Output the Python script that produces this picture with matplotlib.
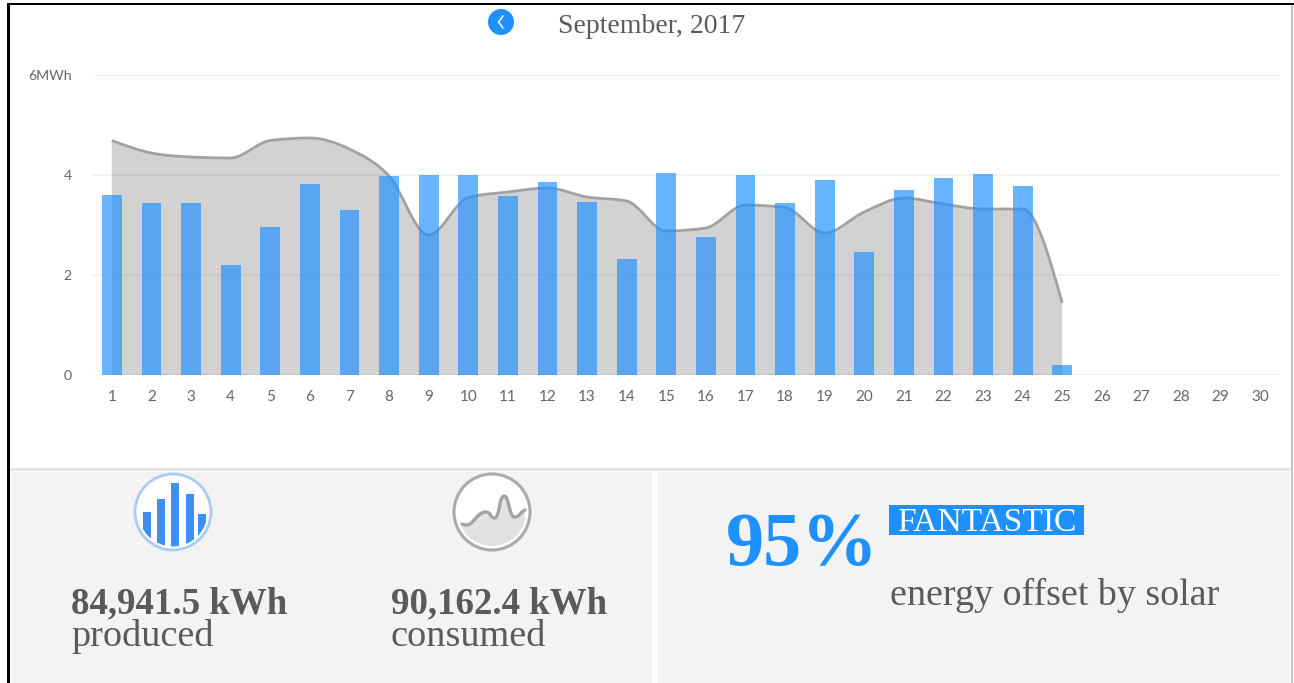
import numpy as np
import matplotlib
matplotlib.use("Agg")
import matplotlib.pyplot as plt
from matplotlib.patches import Rectangle, Circle, Ellipse, PathPatch
from matplotlib.path import Path

days = list(range(1, 31))
produced = [3.60, 3.44, 3.44, 2.20, 2.97, 3.82, 3.30, 3.98, 4.00, 4.00, 3.58, 3.87, 3.47,
            2.33, 4.05, 2.77, 4.00, 3.44, 3.90, 2.47, 3.71, 3.95, 4.03, 3.79, 0.20]
consumed = [4.69, 4.44, 4.36, 4.34, 4.69, 4.74, 4.52, 3.98, 2.80, 3.55, 3.66, 3.74, 3.56,
            3.48, 2.88, 2.94, 3.40, 3.35, 2.84, 3.26, 3.54, 3.42, 3.32, 3.32, 1.44]
y_ticks = [0, 2, 4, 6]
y_labels = ["0", "2", "4", "6MWh"]
title = "September, 2017"
stats = [("84,941.5 kWh", "produced"), ("90,162.4 kWh", "consumed")]
offset = "95%"
badge = "FANTASTIC"
caption = "energy offset by solar"

W, H = 1294, 683
BLUE = "#1e90ff"
TEXT = "#5a5a5a"
SERIF = "Liberation Serif"


def monotone_path(x, y, close_to=None):
    """Monotone cubic (d3 curveMonotoneX style) as Bezier path."""
    x = np.asarray(x, float)
    y = np.asarray(y, float)
    h = np.diff(x)
    s = np.diff(y) / h
    t = np.zeros_like(y)
    for i in range(1, len(y) - 1):
        if s[i - 1] * s[i] > 0:
            p = (s[i - 1] * h[i] + s[i] * h[i - 1]) / (h[i - 1] + h[i])
            t[i] = np.sign(s[i]) * min(abs(s[i - 1]), abs(s[i]), 0.5 * abs(p)) * 2
    t[0] = (3 * s[0] - t[1]) / 2
    t[-1] = (3 * s[-1] - t[-2]) / 2
    verts = [(x[0], y[0])]
    codes = [Path.MOVETO]
    for i in range(len(h)):
        verts += [(x[i] + h[i] / 3, y[i] + t[i] * h[i] / 3),
                  (x[i + 1] - h[i] / 3, y[i + 1] - t[i + 1] * h[i] / 3),
                  (x[i + 1], y[i + 1])]
        codes += [Path.CURVE4] * 3
    if close_to is not None:
        verts += [(x[-1], close_to), (x[0], close_to), (x[0], y[0])]
        codes += [Path.LINETO, Path.LINETO, Path.CLOSEPOLY]
    return Path(verts, codes)


fig = plt.figure(figsize=(W / 100, H / 100), dpi=100, facecolor="white")

# page layer in pixel coordinates
bg = fig.add_axes([0, 0, 1, 1], zorder=0)
bg.set_xlim(0, W)
bg.set_ylim(H, 0)
bg.axis("off")
bg.add_patch(Rectangle((11, 472), 641, 211, fc="#f3f3f3", ec="none"))
bg.add_patch(Rectangle((658, 472), 632, 211, fc="#f3f3f3", ec="none"))
bg.add_patch(Rectangle((10, 468), 1282, 3, fc="#e6e6e6", ec="none"))
bg.add_patch(Rectangle((7, 3), 1287, 2, fc="black", ec="none"))
bg.add_patch(Rectangle((7, 3), 2.5, 680, fc="black", ec="none"))
bg.add_patch(Rectangle((1291, 5), 1.5, 678, fc="#c4c4c4", ec="none"))

# chart
ax = fig.add_axes([92 / W, 1 - 375 / H, (1280 - 92) / W, 300 / H], zorder=1)
ax.patch.set_alpha(0)
ax.set_xlim(0.5, 30.5)
ax.set_ylim(0, 6)
ax.set_axisbelow(True)
ax.yaxis.grid(True, color="#f2f2f2", lw=1.3, zorder=0)
ax.xaxis.grid(False)
for s in ax.spines.values():
    s.set_visible(False)
prod_days = days[:len(produced)]
cons_days = days[:len(consumed)]
ax.add_patch(PathPatch(monotone_path(cons_days, consumed, close_to=0), fc="black",
                       alpha=0.175, ec="none", zorder=2))
ax.add_patch(PathPatch(monotone_path(cons_days, consumed), fc="none", ec="#a2a2a2",
                       lw=2.0, zorder=3, capstyle="butt"))
ax.bar(prod_days, produced, width=0.5, color=BLUE, alpha=0.67, zorder=4, clip_on=False)
ax.set_xticks(days)
ax.set_xticklabels([str(d) for d in days], family="Lato", fontsize=11, color="#6b6460")
ax.set_yticks(y_ticks)
ax.set_yticklabels(y_labels, family="Lato", fontsize=10.2, color="#6b6460")
ax.tick_params(axis="x", length=0, pad=10.5)
ax.tick_params(axis="y", length=0, pad=14.5)

# overlay in pixel coordinates
ov = fig.add_axes([0, 0, 1, 1], zorder=2)
ov.set_xlim(0, W)
ov.set_ylim(H, 0)
ov.axis("off")
ov.patch.set_alpha(0)

ov.add_patch(Circle((501, 22), 13, fc=BLUE, ec="none"))
ov.plot([503, 498.5, 503], [16, 22, 28], color="white", lw=1.1, solid_capstyle="round",
        solid_joinstyle="miter")
ov.text(558, 33, title, family=SERIF, fontsize=20, color=TEXT, ha="left", va="baseline")

# production icon
ov.add_patch(Ellipse((173, 512), 76, 76, fc="white", ec="#a8cbf8", lw=2))
clip = Ellipse((173, 512), 69, 69, transform=ov.transData)
for bx, top in zip([147, 161, 175, 190, 202], [512, 499, 483, 494, 514]):
    r = ov.add_patch(Rectangle((bx - 4, top), 8, 560 - top, fc="#3f8ff2", ec="none"))
    r.set_clip_path(clip)

# consumption icon
ov.add_patch(Ellipse((492, 512), 76, 76, fc="white", ec="#ababab", lw=2.2))
wx = [462, 466, 470, 475, 480, 485, 489, 492, 495, 498, 501, 504, 507, 509, 511, 514, 518, 522, 525]
wy = [524, 525, 524, 519, 514, 512, 513, 517, 518, 513, 500, 496, 499, 506, 513, 517, 516, 512, 510]
wp = monotone_path(wx, wy)
clip2 = Ellipse((492, 512), 68, 68, transform=ov.transData)
fill_v = list(wp.vertices) + [(525, 552), (462, 552), (462, 524)]
fill_c = list(wp.codes) + [Path.LINETO, Path.LINETO, Path.CLOSEPOLY]
p = ov.add_patch(PathPatch(Path(fill_v, fill_c), fc="#e2e2e2", ec="none"))
p.set_clip_path(clip2)
ov.add_patch(PathPatch(wp, fc="none", ec="#a3a3a3", lw=2.4, capstyle="round"))

# statistics
for (value, label), x in zip(stats, [71, 391]):
    ov.text(x, 613, value, family=SERIF, weight="bold", fontsize=26.6, color=TEXT,
            ha="left", va="baseline")
    ov.text(x, 646, label, family=SERIF, fontsize=27.5, color=TEXT, ha="left", va="baseline")

ov.text(726, 565, offset, family=SERIF, weight="bold", fontsize=55, color=BLUE,
        ha="left", va="baseline")
ov.add_patch(Rectangle((889, 505), 195, 30, fc=BLUE, ec="none"))
ov.text(986.5, 531, badge, family=SERIF, fontsize=24.2, color="white", ha="center",
        va="baseline")
ov.text(890, 605, caption, family=SERIF, fontsize=27.4, color=TEXT, ha="left", va="baseline")

fig.savefig("out.png", dpi=100)
